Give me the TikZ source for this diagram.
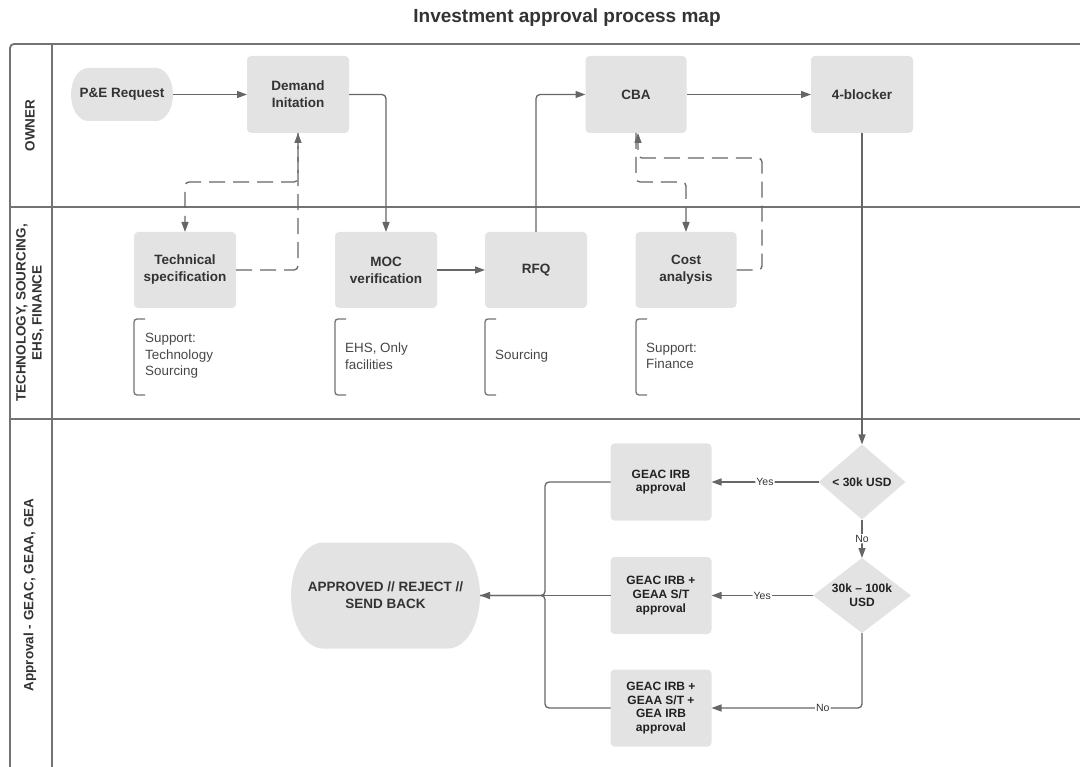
\documentclass[tikz,border=0pt]{standalone}
\usepackage{fontspec}
\setmainfont{Liberation Sans}
\usetikzlibrary{arrows.meta,shapes.geometric}
\definecolor{boxgray}{HTML}{E3E3E3}
\definecolor{framec}{HTML}{737373}
\definecolor{wirec}{HTML}{666666}
\definecolor{ink}{HTML}{333333}
\definecolor{darkink}{HTML}{222222}
\definecolor{noteink}{HTML}{474747}
\newcommand\setfs[2]{\fontsize{#1}{#2}\selectfont}

\begin{document}
\begin{tikzpicture}[x=1pt, y=-1pt,
  lane/.style={draw=framec, line width=1.8pt},
  box/.style={rectangle, rounded corners=4pt, fill=boxgray, minimum width=102pt,
    minimum height=77pt, inner sep=2pt, outer sep=0pt, align=center, text=ink,
    font=\bfseries\setfs{13.5}{17}},
  abox/.style={box, text=darkink, minimum width=101pt, font=\bfseries\setfs{12}{13.7}},
  term/.style={rectangle, inner sep=2pt, outer sep=0pt, align=center, text=ink,
    font=\bfseries\setfs{13.5}{17}},
  dec/.style={diamond, fill=boxgray, inner sep=0pt, outer sep=0pt},
  dectext/.style={align=center, text=darkink, font=\bfseries\setfs{12}{13.7}},
  wire/.style={draw=wirec, line width=1.3pt, rounded corners=4pt,
    -{Triangle[length=10pt,width=7pt]}},
  dashwire/.style={wire, dash pattern=on 16pt off 8pt},
  plain/.style={draw=wirec, line width=1.3pt, rounded corners=4pt},
  lbl/.style={fill=white, inner sep=1pt, text=ink, font=\setfs{10.5}{12}},
  note/.style={anchor=west, align=left, inner sep=0pt, text=noteink,
    font=\setfs{13.4}{16.7}},
  bracket/.style={draw=framec, line width=1.3pt, rounded corners=3pt},
  lanelbl/.style={rotate=90, align=center, text=ink, font=\bfseries\setfs{13.5}{16}}
]
\useasboundingbox (0,0) rectangle (1080,767);

% title
\node[anchor=base, text=ink, font=\bfseries\setfs{19}{22}] (title) at (567,23)
  {Investment approval process map};

% swimlane frame
\draw[lane, rounded corners=4pt] (1080,44) -- (10,44) -- (10,767);
\draw[lane] (52,44) -- (52,767);
\draw[lane] (10,207) -- (1080,207);
\draw[lane] (10,419) -- (1080,419);

\node[lanelbl] (laneA) at (30,125.5) {OWNER};
\node[lanelbl] (laneB) at (30,313) {TECHNOLOGY, SOURCING,\\EHS, FINANCE};
\node[lanelbl] (laneC) at (30,595) {Approval - GEAC, GEAA, GEA};

% terminator backgrounds (elliptical ends)
\fill[boxgray] (88,68) -- (156,68)
  arc[start angle=-90, end angle=90, x radius=17, y radius=26.5]
  -- (88,121) arc[start angle=90, end angle=270, x radius=17, y radius=26.5] -- cycle;
\fill[boxgray] (323,542.5) -- (448,542.5)
  arc[start angle=-90, end angle=90, x radius=32, y radius=53]
  -- (323,648.5) arc[start angle=90, end angle=270, x radius=32, y radius=53] -- cycle;

% owner lane
\node[term, minimum width=102pt, minimum height=53pt] (pe) at (122,94.5) {P\&E Request};
\node[box] (dem) at (298,94.5) {Demand\\Initation};
\node[box, minimum width=101pt] (cba) at (636,94.5) {CBA};
\node[box] (blk) at (862,94.5) {4-blocker};

% technology / sourcing / EHS / finance lane
\node[box, minimum height=76pt] (tech) at (185,270) {Technical\\specification};
\node[box, minimum height=76pt] (moc) at (386,270) {MOC\\verification};
\node[box, minimum height=76pt] (rfq) at (536,270) {RFQ};
\node[box, minimum height=76pt, minimum width=101pt] (cost) at (686,270) {Cost\\analysis};

% support brackets
\draw[bracket] (145,319) -- (134,319) -- (134,395) -- (145,395);
\draw[bracket] (346,319) -- (335,319) -- (335,395) -- (346,395);
\draw[bracket] (496,319) -- (485,319) -- (485,395) -- (496,395);
\draw[bracket] (647,319) -- (636,319) -- (636,395) -- (647,395);
\node[note] (n1) at (145,356) {Support:\\Technology\\Sourcing};
\node[note] (n2) at (345,356) {EHS, Only\\facilities};
\node[note] (n3) at (495,356) {Sourcing};
\node[note] (n4) at (646,356) {Support:\\Finance};

% approval lane
\node[dec, minimum width=87pt, minimum height=75pt] (d1) at (862,482) {};
\node[dectext] (d1t) at (d1) {< 30k USD};
\node[dec, minimum width=98pt, minimum height=75pt] (d2) at (862,595.5) {};
\node[dectext] (d2t) at (d2) {30k – 100k\\USD};
\node[abox] (g1) at (661,482) {GEAC IRB\\approval};
\node[abox] (g2) at (661,595.5) {GEAC IRB +\\GEAA S/T\\approval};
\node[abox] (g3) at (661,708) {GEAC IRB +\\GEAA S/T +\\GEA IRB\\approval};
\node[term, minimum width=189pt, minimum height=106pt] (app) at (385.5,595.5)
  {APPROVED // REJECT //\\SEND BACK};

% connectors: owner and support lanes
\draw[wire] (pe.east) -- (dem.west);
\draw[wire] (dem.east) -| (moc.north);
\coordinate (tsplit) at (298,182);
\draw[dashwire] (dem.south) -- (tsplit) -| (tech.north);
\draw[dashwire] (tech.east) -| (dem.south);
\draw[wire] (moc.east) -- (rfq.west);
\draw[wire] (rfq.north) |- (cba.west);
\draw[wire] (cba.east) -- (blk.west);
\coordinate (csplit) at (636,182);
\draw[dashwire] (cba.south) -- (csplit) -| (cost.north);
\coordinate (cret) at (762,158);
\draw[dashwire] (cost.east) -| (cret) -| ([xshift=2pt]cba.south);

% connectors: approval lane
\draw[wire] (blk.south) -- (d1.north);
\draw[wire] (d1.west) -- node[lbl] (y1) {Yes} (g1.east);
\draw[wire] (d1.south) -- node[lbl] (no1) {No} (d2.north);
\draw[wire] (d2.west) -- node[lbl] (y2) {Yes} (g2.east);
\draw[wire] (d2.south) |- node[lbl, pos=0.63] (no2) {No} (g3.east);
\coordinate (merge) at (545,595.5);
\draw[plain] (g1.west) -| (merge) -- (app.east);
\draw[plain] (g3.west) -| (merge) -- (app.east);
\draw[wire] (g2.west) -- (app.east);
\end{tikzpicture}
\end{document}
